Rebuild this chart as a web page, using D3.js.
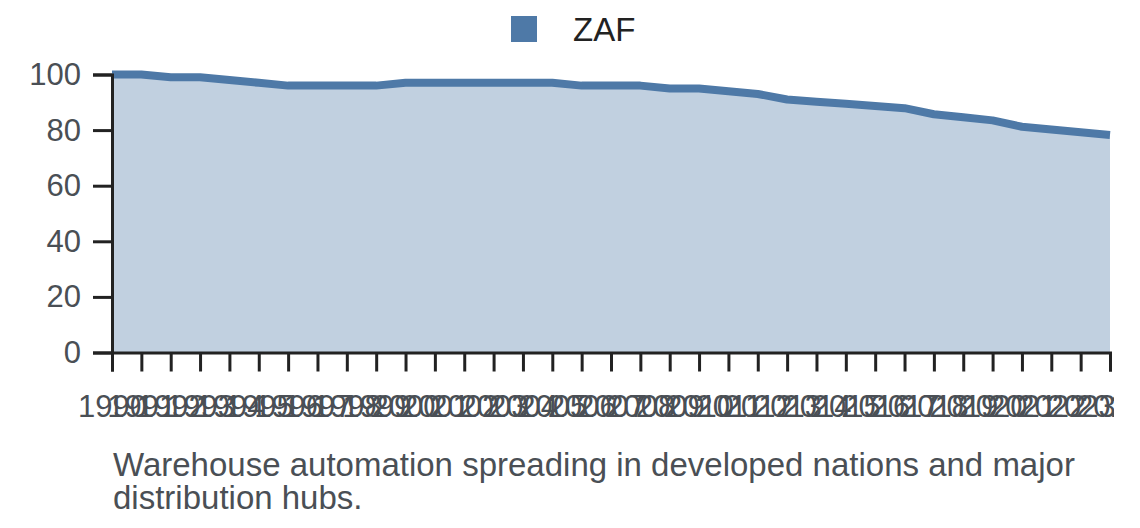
<!DOCTYPE html>
<html>
<head>
<meta charset="utf-8">
<script src="https://cdn.jsdelivr.net/npm/d3@7"></script>
<style>
  html, body { margin: 0; padding: 0; background: #fff; }
  svg { display: block; font-family: "Liberation Sans", Arial, sans-serif; }
</style>
</head>
<body>
<script>
const years = [1990,1991,1992,1993,1994,1995,1996,1997,1998,1999,2000,2001,2002,2003,2004,2005,2006,2007,2008,2009,2010,2011,2012,2013,2014,2015,2016,2017,2018,2019,2020,2021,2022,2023,2024];
const seriesName = "ZAF";
const values = [100,100,99,99,98,97,96,96,96,96,97,97,97,97,97,97,96,96,96,95,95,94,93,91,90.2,89.5,88.7,87.9,85.7,84.6,83.5,81.2,80.2,79.2,78.2];
const yTicks = [0,20,40,60,80,100];
const caption = ["Warehouse automation spreading in developed nations and major", "distribution hubs."];

(function () {
const color = "#4e79a7";
const W = 1114, H = 528;
const mLeft = 112, mRight = 1110, mTop = 74.5, mBottom = 352.5;

const data = years.map((yr, i) => ({ year: yr, value: values[i] }));

const svg = d3.select("body").append("svg").attr("width", W).attr("height", H);

const x = d3.scaleLinear().domain(d3.extent(years)).range([mLeft, mRight]);
const y = d3.scaleLinear().domain([0, 100]).range([mBottom, mTop]);

const area = d3.area().x(d => x(d.year)).y0(y(0)).y1(d => y(d.value));
const line = d3.line().x(d => x(d.year)).y(d => y(d.value));

svg.append("path").datum(data).attr("d", area).attr("fill", color).attr("fill-opacity", 0.35);
svg.append("path").datum(data).attr("d", line).attr("fill", "none")
  .attr("stroke", color).attr("stroke-width", 8).attr("stroke-linejoin", "round");

const xAxis = svg.append("g").attr("transform", `translate(0,${mBottom})`)
  .call(d3.axisBottom(x).tickValues(years).tickFormat(d3.format("d")).tickSize(19).tickPadding(23));
const yAxis = svg.append("g").attr("transform", `translate(${mLeft},0)`)
  .call(d3.axisLeft(y).tickValues(yTicks).tickSize(19).tickPadding(12));

[xAxis, yAxis].forEach(g => {
  g.selectAll("path, line").attr("stroke", "#222").attr("stroke-width", 3);
  g.selectAll("text").attr("font-size", 31).attr("fill", "#4a4f55")
    .attr("font-family", '"Liberation Sans", Arial, sans-serif');
});

// legend
const lg = svg.append("g");
lg.append("rect").attr("x", 511).attr("y", 16).attr("width", 26).attr("height", 26).attr("fill", color);
lg.append("text").attr("x", 573).attr("y", 29).attr("dy", "0.35em").attr("font-size", 33)
  .attr("fill", "#222").text(seriesName);

// caption
svg.append("g").selectAll("text").data(caption).join("text")
  .attr("x", 113).attr("y", (d, i) => 476 + i * 33)
  .attr("font-size", 33).attr("fill", "#4a4f55").text(d => d);
})();
</script>
</body>
</html>
